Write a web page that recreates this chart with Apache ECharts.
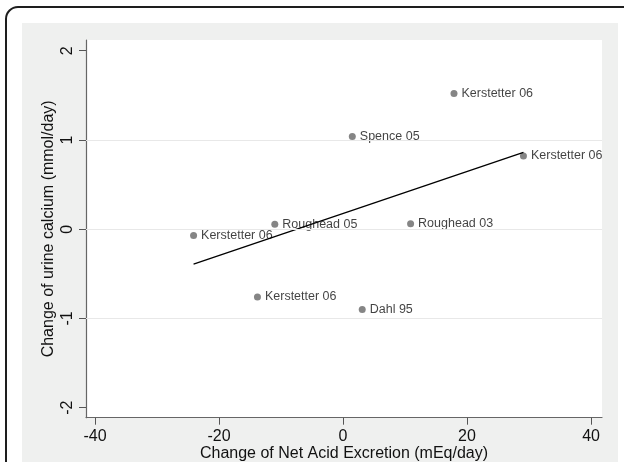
<!DOCTYPE html>
<html>
<head>
<meta charset="utf-8">
<script src="https://cdn.jsdelivr.net/npm/echarts@6.0.0/dist/echarts.min.js"></script>
<style>
html,body{margin:0;padding:0;background:#fff;}
#chart{width:624px;height:462px;}
</style>
</head>
<body>
<div id="chart"></div>
<script>
// Data
const studies = ['Kerstetter 06', 'Spence 05', 'Kerstetter 06', 'Roughead 05', 'Roughead 03', 'Kerstetter 06', 'Kerstetter 06', 'Dahl 95'];
const naeChange = [17.9, 1.5, 29.1, -11.0, 10.9, -24.1, -13.8, 3.1];
const caChange = [1.52, 1.04, 0.82, 0.055, 0.06, -0.07, -0.76, -0.90];
const fitX = [-24.1, 29.1];
const fitY = [-0.39, 0.86];
const xTicks = [-40, -20, 0, 20, 40];
const yTicks = [-2, -1, 0, 1, 2];
const yGrid = [-1, 0, 1];

const FONT = '"Liberation Sans", Arial, Helvetica, sans-serif';
const chart = echarts.init(document.getElementById('chart'), null, {renderer: 'canvas'});

const pts = studies.map((s, i) => ({value: [naeChange[i], caChange[i]], name: s}));
const fitData = fitX.map((x, i) => [x, fitY[i]]);

chart.setOption({
  backgroundColor: '#ffffff',
  animation: false,
  textStyle: {fontFamily: FONT},
  graphic: [
    {type: 'rect', z: -20, shape: {x: 6, y: 7, width: 720, height: 600, r: 12},
     style: {fill: '#ffffff', stroke: '#1e1e1e', lineWidth: 2}},
    {type: 'rect', z: -19, shape: {x: 22, y: 23, width: 596, height: 460},
     style: {fill: '#eff0ef'}}
  ],
  grid: {left: 86, top: 40, right: 22, bottom: 44.3, outerBoundsMode: 'none', containLabel: false,
         show: true, backgroundColor: '#ffffff', borderWidth: 0},
  xAxis: {
    type: 'value', min: -41.45, max: 41.77,
    name: 'Change of Net Acid Excretion (mEq/day)', nameLocation: 'middle', nameGap: 28,
    nameMoveOverlap: false,
    nameTextStyle: {fontSize: 16, color: '#111', fontFamily: FONT},
    axisLine: {show: true, onZero: false, lineStyle: {color: '#666', width: 1.2}},
    axisTick: {show: true, length: 7, customValues: xTicks, lineStyle: {color: '#555', width: 1}},
    axisLabel: {customValues: xTicks, fontSize: 16, color: '#111', margin: 11, fontFamily: FONT},
    splitLine: {show: false}
  },
  yAxis: {
    type: 'value', min: -2.112, max: 2.12,
    name: 'Change of urine calcium (mmol/day)', nameLocation: 'middle', nameGap: 29,
    nameMoveOverlap: false,
    nameTextStyle: {fontSize: 16, color: '#111', fontFamily: FONT},
    axisLine: {show: true, onZero: false, lineStyle: {color: '#666', width: 1.2}},
    axisTick: {show: true, length: 7, customValues: yTicks, lineStyle: {color: '#555', width: 1}},
    axisLabel: {customValues: yTicks, rotate: 90, fontSize: 16, color: '#111', margin: 10, fontFamily: FONT},
    splitLine: {show: false}
  },
  series: [
    {
      type: 'scatter', data: pts, symbol: 'circle', symbolSize: 7,
      itemStyle: {color: '#666666'},
      label: {show: true, position: 'right', distance: 4, formatter: p => p.name,
              fontSize: 12.5, color: '#111', fontFamily: FONT},
      markLine: {
        silent: true, symbol: 'none', label: {show: false},
        lineStyle: {color: '#e8e8e8', width: 1, type: 'solid'},
        data: yGrid.map(v => ({yAxis: v}))
      },
      z: 3
    },
    {
      type: 'line', data: fitData, symbol: 'none',
      lineStyle: {color: '#000', width: 1.3}, z: 4
    }
  ]
});
</script>
</body>
</html>
